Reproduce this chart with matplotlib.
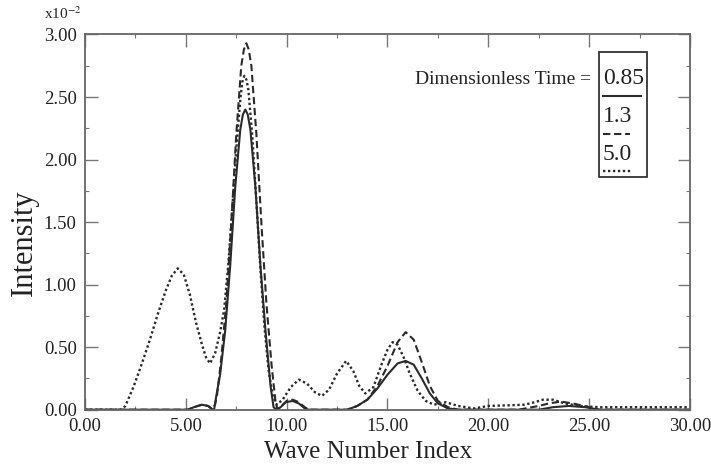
import matplotlib
matplotlib.use("Agg")
import matplotlib.pyplot as plt
from matplotlib.lines import Line2D
from matplotlib.patches import Rectangle
from matplotlib.ticker import MultipleLocator

plt.rcParams['font.family'] = ['Liberation Serif', 'DejaVu Serif']
plt.rcParams['mathtext.fontset'] = 'stix'

# intensity values are in units of 1e-2
# dimensionless time = 0.85 (solid)
x_085 = [0, 5.1, 5.4, 5.8, 6.1, 6.3, 6.4, 6.5, 6.7, 6.95, 7.2, 7.45, 7.7, 7.83, 7.95,
         8.07, 8.2, 8.45, 8.7, 8.95, 9.2, 9.35, 9.5, 9.7, 9.95, 10.3, 10.6, 10.9, 11.1,
         13.0, 13.5, 14.0, 14.5, 15.0, 15.5, 15.9, 16.3, 16.7, 17.1, 17.5, 18.0,
         18.5, 22.5, 23.2, 24.0, 24.8, 25.5, 30]
y_085 = [0, 0, 0.02, 0.04, 0.03, 0.005, 0.0, 0.10, 0.28, 0.63, 1.15, 1.78, 2.24, 2.36, 2.40,
         2.36, 2.24, 1.78, 1.15, 0.63, 0.19, 0.02, 0.0, 0.02, 0.06, 0.07, 0.05, 0.01, 0.0,
         0.0, 0.03, 0.08, 0.17, 0.28, 0.37, 0.39, 0.36, 0.25, 0.13, 0.05, 0.01,
         0.0, 0.0, 0.02, 0.03, 0.02, 0.0, 0]

# dimensionless time = 1.3 (dashed)
x_13 = [0, 5.1, 5.4, 5.8, 6.1, 6.3, 6.45, 6.55, 6.75, 7.0, 7.25, 7.5, 7.75, 7.88, 8.0,
        8.12, 8.25, 8.5, 8.75, 9.0, 9.25, 9.45, 9.55, 9.75, 10.0, 10.3, 10.6, 10.9, 11.1,
        13.0, 13.5, 14.0, 14.5, 15.0, 15.5, 15.9, 16.3, 16.7, 17.1, 17.5, 18.0,
        18.5, 21.5, 22.5, 23.0, 23.6, 24.2, 25.0, 25.5, 30]
y_13 = [0, 0, 0.02, 0.04, 0.03, 0.005, 0.04, 0.12, 0.40, 0.84, 1.48, 2.20, 2.75, 2.88, 2.93,
        2.88, 2.75, 2.20, 1.48, 0.84, 0.36, 0.06, 0.0, 0.03, 0.07, 0.08, 0.06, 0.02, 0.0,
        0.0, 0.03, 0.08, 0.19, 0.35, 0.54, 0.62, 0.56, 0.38, 0.19, 0.07, 0.02,
        0.0, 0.0, 0.03, 0.05, 0.065, 0.05, 0.02, 0.0, 0]

# dimensionless time = 5.0 (dotted)
x_50 = [0, 1.8, 2.0, 2.4, 2.8, 3.2, 3.6, 4.0, 4.3, 4.6, 4.9, 5.2, 5.5, 5.8, 6.0,
        6.2, 6.45, 6.7, 6.9, 7.1, 7.3, 7.5, 7.7, 7.8, 7.9, 8.0, 8.1, 8.3, 8.5, 8.7, 8.9,
        9.1, 9.3, 9.5, 9.8, 10.2, 10.6, 11.0, 11.4, 11.75, 12.1, 12.5, 12.95,
        13.3, 13.6, 13.9, 14.3, 14.7, 15.0, 15.25, 15.5, 15.8, 16.1, 16.5, 16.9,
        17.3, 17.9, 18.5, 19.3, 20.0, 21.0, 21.8, 22.3, 22.7, 23.2, 23.8, 24.5,
        25.5, 27.0, 30]
y_50 = [0, 0, 0.03, 0.18, 0.36, 0.55, 0.76, 0.95, 1.07, 1.13, 1.08, 0.92, 0.70, 0.52, 0.42,
        0.37, 0.45, 0.62, 0.80, 1.15, 1.60, 2.08, 2.48, 2.62, 2.67, 2.64, 2.56, 2.18, 1.66, 1.12, 0.66,
        0.32, 0.12, 0.04, 0.08, 0.18, 0.24, 0.21, 0.14, 0.11, 0.16, 0.29, 0.39,
        0.31, 0.19, 0.13, 0.18, 0.36, 0.48, 0.54, 0.52, 0.42, 0.29, 0.15, 0.07,
        0.04, 0.06, 0.03, 0.01, 0.03, 0.035, 0.04, 0.06, 0.08, 0.08, 0.05, 0.03,
        0.02, 0.02, 0.02]

times = ['0.85', '1.3', '5.0']
styles = ['-', (0, (3.5, 1.8)), (0, (1, 1.1))]
widths = [1.5, 1.5, 1.7]
ink = '#2a2a2a'

W, H = 711, 473
fig = plt.figure(figsize=(W / 100, H / 100), dpi=100)
ax = fig.add_axes([85 / W, 1 - 409.7 / H, 605 / W, 375.2 / H])

for xs, ys, ls, lw in zip([x_085, x_13, x_50], [y_085, y_13, y_50], styles, widths):
    ax.plot(xs, ys, color=ink, lw=lw, linestyle=ls)

ax.set_xlim(0, 30)
ax.set_ylim(0, 3)
ax.xaxis.set_major_locator(MultipleLocator(5))
ax.xaxis.set_minor_locator(MultipleLocator(2.5))
ax.yaxis.set_major_locator(MultipleLocator(0.5))
ax.yaxis.set_minor_locator(MultipleLocator(0.25))
ax.xaxis.set_major_formatter(lambda v, p: f'{v:.2f}')
ax.yaxis.set_major_formatter(lambda v, p: f'{v:.2f}')
ax.tick_params(which='both', direction='in', top=True, right=True,
               color='#777777', labelsize=13.5, labelcolor='#222222')
ax.tick_params(which='major', length=9, width=1.0, pad=6)
ax.tick_params(which='minor', length=3, width=0.8)
for s in ax.spines.values():
    s.set_color('#666666')
    s.set_linewidth(1.3)

fig.text(368 / W, 1 - 452 / H, 'Wave Number Index', ha='center', va='center',
         fontsize=18, color='#222222')
fig.text(24 / W, 1 - 243 / H, 'Intensity', ha='center', va='center',
         rotation=90, fontsize=22, color='#222222')
fig.text(63 / W, 1 - 14 / H, r'x10$^{-2}$', ha='center', va='center',
         fontsize=11, color='#222222')

# boxed legend
def px(x, y):
    return x / W, 1 - y / H

fig.add_artist(Rectangle(px(599, 177.3), 47.7 / W, 125 / H,
                         transform=fig.transFigure, fill=False,
                         edgecolor='#333333', lw=1.3))
fig.text(*px(591, 79), 'Dimensionless Time =', ha='right', va='center',
         fontsize=14, color='#222222')
label_y = [78, 117, 154]
line_y = [96, 134, 171]
line_end = [641, 630, 631]
for t, ls, lw, ty, ly, xe in zip(times, styles, widths, label_y, line_y, line_end):
    fig.text(*px(603, ty), t, ha='left', va='center', fontsize=17, color='#222222')
    fig.add_artist(Line2D([603 / W, xe / W], [1 - ly / H, 1 - ly / H],
                          transform=fig.transFigure, color=ink, lw=lw,
                          linestyle=ls))

fig.savefig('out.png', dpi=100)
